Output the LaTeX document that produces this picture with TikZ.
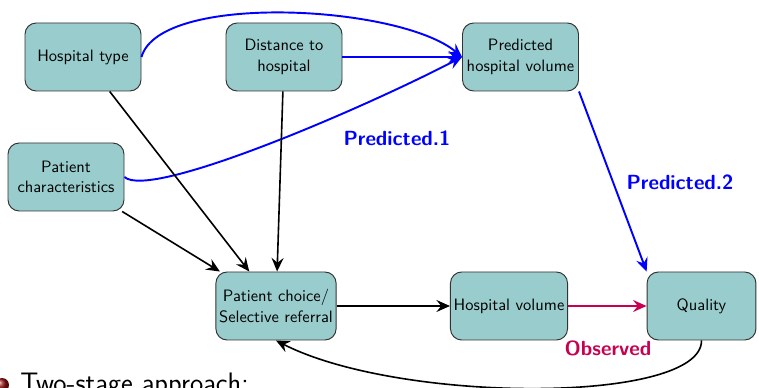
\documentclass[tikz,border=0pt]{standalone}
\usetikzlibrary{arrows.meta,shapes.misc}
\definecolor{boxfill}{RGB}{153,204,204}
\definecolor{obsred}{RGB}{200,0,80}
\definecolor{ballred}{RGB}{150,20,20}
\tikzset{
  box/.style={draw=black!80, line width=0.6pt, fill=boxfill, rounded corners=7pt,
    minimum width=72.5pt, minimum height=42.5pt, align=center, inner sep=2pt,
    font=\sffamily\fontsize{10.3}{12.8}\selectfont},
  tip/.style={-{Stealth[length=8.5pt,width=7.5pt,inset=3pt]}},
  blk/.style={tip, line width=1pt, black},
  blu/.style={tip, line width=1.2pt, blue},
  red/.style={tip, line width=1.1pt, obsred},
  lab/.style={font=\sffamily\bfseries\fontsize{12.8}{14}\selectfont}
}
\begin{document}
\begin{tikzpicture}[x=0.625pt,y=-0.625pt]
\useasboundingbox (0,0) rectangle (759,388);
\clip (0,0) rectangle (759,388);
\node[box] (ht) at (83,57) {Hospital type};
\node[box] (dist) at (284,57) {Distance to\\hospital};
\node[box] (pred) at (520.5,57) {Predicted\\hospital volume};
\node[box] (pchar) at (66,177) {Patient\\characteristics};
\node[box] (pc) at (276,306) {Patient choice/\\Selective referral};
\node[box] (hv) at (509,306) {Hospital volume};
\node[box, minimum width=68pt] (q) at (701.5,306) {Quality};

\draw[blu] (ht.east) .. controls (160,-8) and (400,5) .. (pred.west);
\draw[blu] (dist.east) -- (pred.west);
\draw[blu] (pchar.east) .. controls (150,200) and (360,110) .. (pred.west);
\draw[blu] (pred.south east) -- (q.north west);

\draw[blk] (ht) -- (pc);
\draw[blk] (dist) -- (pc);
\draw[blk] (pchar) -- (pc);
\draw[blk] (pc.east) -- (hv.west);
\draw[red] (hv.east) -- (q.west);
\draw[blk] (q.south) .. controls (702,404) and (400,404) .. (pc.south);

\node[lab, text=blue] (l1) at (397,138) {Predicted.1};
\node[lab, text=blue] (l2) at (680,182) {Predicted.2};
\node[lab, text=obsred] (l3) at (608,348) {Observed};

\shade[ball color=ballred] (2,385) circle (7);
\node[anchor=base west, inner sep=0pt, font=\sffamily\fontsize{17.6}{20}\selectfont] (tsa) at (20,392) {Two-stage approach:};
\end{tikzpicture}
\end{document}
